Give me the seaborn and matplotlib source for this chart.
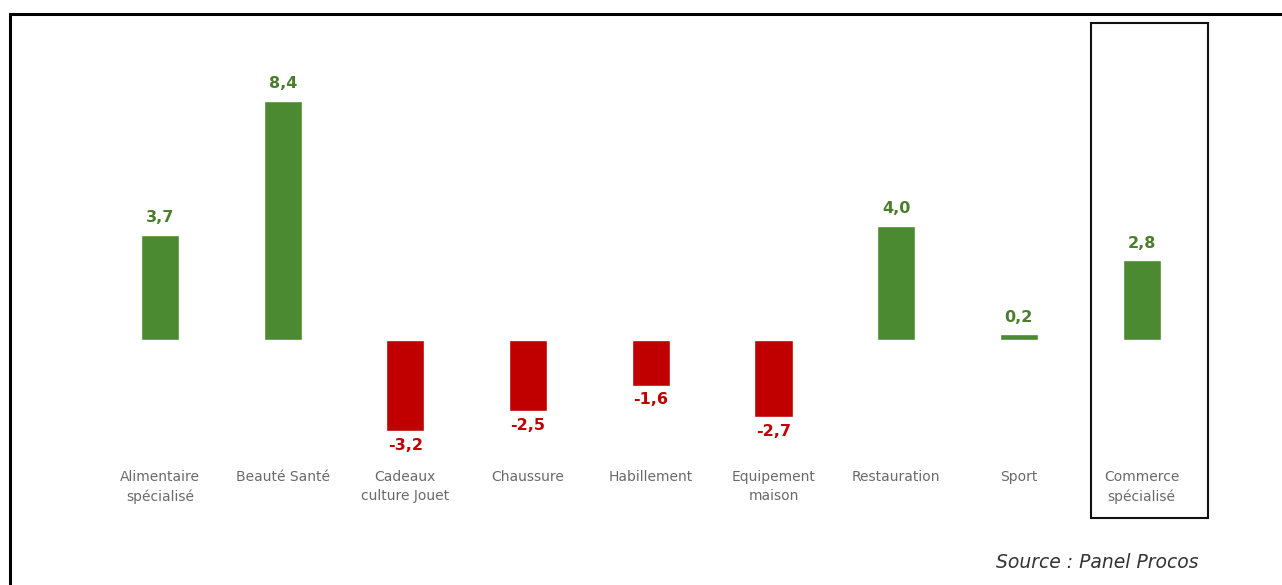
import matplotlib
matplotlib.use("Agg")
import matplotlib.pyplot as plt
from matplotlib.patches import Rectangle
import seaborn as sns
import pandas as pd

categories = ["Alimentaire\nspécialisé", "Beauté Santé", "Cadeaux\nculture Jouet",
              "Chaussure", "Habillement", "Equipement\nmaison", "Restauration",
              "Sport", "Commerce\nspécialisé"]
values = [3.7, 8.4, -3.2, -2.5, -1.6, -2.7, 4.0, 0.2, 2.8]
source_text = "Source : Panel Procos"

GREEN = "#4b8a30"
GREEN_TXT = "#4a7d2c"
RED = "#c00000"

sns.set_theme(style="white")
plt.rcParams["font.family"] = ["DejaVu Sans"]

df = pd.DataFrame({"cat": categories, "val": values,
                   "sign": ["pos" if v >= 0 else "neg" for v in values]})

W, H = 1282, 585
fig = plt.figure(figsize=(W / 100, H / 100), dpi=100)
fig.patch.set_facecolor("white")

# axes placed so that the category slots are ~122.7 px wide
step = 122.7
left_px = 160 - 0.5 * step
right_px = left_px + 9 * step
ppu = 28.45
zero_px = 340
ymax, ymin = 9.5, -4.0
top_px = zero_px - ymax * ppu
bot_px = zero_px - ymin * ppu
ax = fig.add_axes([left_px / W, 1 - bot_px / H, (right_px - left_px) / W, (bot_px - top_px) / H])

sns.barplot(data=df, x="cat", y="val", hue="sign", palette={"pos": GREEN, "neg": RED},
            width=0.31, dodge=False, legend=False, ax=ax, saturation=1)
ax.set_xlim(-0.5, 8.5)
ax.set_ylim(ymin, ymax)
ax.set_xlabel("")
ax.set_ylabel("")
ax.set_yticks([])
for s in ax.spines.values():
    s.set_visible(False)
ax.tick_params(axis="x", length=0, pad=12, labelsize=10, labelcolor="#6a6a6a")
ax.set_xticks(range(len(categories)))
ax.set_xticklabels(categories, linespacing=1.4)
ax.patch.set_alpha(0)

for i, v in enumerate(values):
    lab = f"{v:.1f}".replace(".", ",")
    if v >= 0:
        ax.annotate(lab, (i, v), xytext=(0, 7), textcoords="offset points",
                    ha="center", va="bottom", color=GREEN_TXT, fontsize=11.5, fontweight="bold")
    else:
        ax.annotate(lab, (i, v), xytext=(0, -5), textcoords="offset points",
                    ha="center", va="top", color=RED, fontsize=11.5, fontweight="bold")

# outer frame (runs off the right and bottom edges)
fig.patches.append(Rectangle((10 / W, -0.1), 1.2, 1 - 14 / H + 0.1, transform=fig.transFigure,
                             fill=False, edgecolor="black", linewidth=2.2, zorder=10))
# highlight box around the total
fig.patches.append(Rectangle((1091 / W, 1 - 518 / H), (1208 - 1091) / W, (518 - 23) / H,
                             transform=fig.transFigure, fill=False, edgecolor="#111111",
                             linewidth=1.5, zorder=10))

fig.text(1198 / W, 1 - 562 / H, source_text, ha="right", va="center", fontsize=13.5,
         style="italic", color="#333333")

fig.savefig("out.png", dpi=100)
